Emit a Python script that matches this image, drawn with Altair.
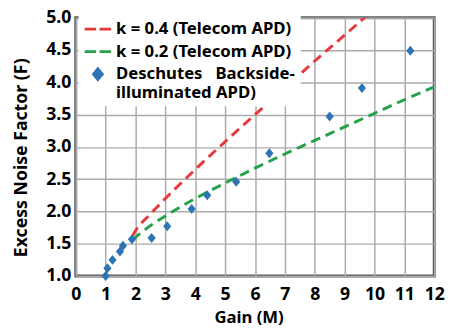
import altair as alt
import pandas as pd

# --- data ---
labels = ["k = 0.4 (Telecom APD)", "k = 0.2 (Telecom APD)",
          "Deschutes\u00a0\u00a0\u00a0Backside-|illuminated APD)"]
colors = ["#e8383b", "#25a149", "#2e74b5"]

red_M = [1.9, 2.0, 2.5, 3, 4, 5, 6, 7, 8, 9, 10]
red_F = [1.62, 1.70, 1.96, 2.20, 2.65, 3.08, 3.50, 3.91, 4.33, 4.73, 5.14]
green_M = [1.9, 2.0, 2.5, 3, 4, 5, 6, 7, 8, 9, 10, 11, 12]
green_F = [1.56, 1.60, 1.78, 1.93, 2.20, 2.44, 2.67, 2.89, 3.10, 3.31, 3.52, 3.73, 3.93]
pts_M = [1.0, 1.06, 1.23, 1.48, 1.58, 1.88, 2.54, 3.06, 3.88, 4.4, 5.37, 6.48, 8.5, 9.58, 11.2]
pts_F = [1.0, 1.12, 1.25, 1.38, 1.47, 1.57, 1.59, 1.77, 2.04, 2.25, 2.46, 2.90, 3.47, 3.91, 4.49]

x_ticks = list(range(0, 13))
y_ticks = [1.0, 1.5, 2.0, 2.5, 3.0, 3.5, 4.0, 4.5, 5.0]

curves = pd.DataFrame({
    "M": red_M + green_M,
    "F": red_F + green_F,
    "series": [labels[0]] * len(red_M) + [labels[1]] * len(green_M),
})
points = pd.DataFrame({"M": pts_M, "F": pts_F, "series": [labels[2]] * len(pts_M)})

FONT = "Noto Sans"
dash_path = "M-1.9,-0.2H-0.25V0.2H-1.9Z M0.25,-0.2H1.9V0.2H0.25Z"
diamond_path = "M0,-1.1L0.9,0L0,1.1L-0.9,0Z"

xs = alt.Scale(domain=[0, 12], nice=False, zero=False)
ys = alt.Scale(domain=[1.0, 5.0], nice=False, zero=False)


def x_axis():
    return alt.Axis(values=x_ticks, title="Gain (M)", labelFontSize=18, titleFontSize=17,
                    labelFont=FONT, titleFont=FONT, labelFontWeight="bold", titleFontWeight="bold",
                    labelColor="black", titleColor="black", grid=True, gridColor="#ababab",
                    gridWidth=1.5, ticks=False, domain=False, labelPadding=10, titlePadding=6,
                    titleX=176, labelFlush=False, labelOverlap=False)


def y_axis():
    return alt.Axis(values=y_ticks, format=".1f", title="Excess Noise Factor (F)", labelFontSize=18,
                    titleFontSize=18, labelFont=FONT, titleFont=FONT, labelFontWeight="bold",
                    titleFontWeight="bold", labelColor="black", titleColor="black", grid=True,
                    gridColor="#ababab", gridWidth=1.5, ticks=False, domain=False, labelPadding=5,
                    titlePadding=16, titleY=142, labelFlush=False, labelOverlap=False)


def leg():
    return alt.Legend(title=None, orient="none", legendX=3, legendY=-2, fillColor="white",
                      padding=5, symbolSize=200, symbolOffset=6, labelOffset=10,
                      labelFont=FONT, labelFontSize=17, labelFontWeight="bold", labelColor="black",
                      labelLimit=400, rowPadding=5, symbolStrokeWidth=0,
                      labelExpr="split(datum.label, '|')")


lines = alt.Chart(curves).mark_line(strokeDash=[10, 6], strokeWidth=3, clip=True,
                                    interpolate="monotone").encode(
    x=alt.X("M:Q", scale=xs, axis=x_axis()),
    y=alt.Y("F:Q", scale=ys, axis=y_axis()),
    stroke=alt.Stroke("series:N", scale=alt.Scale(domain=labels[:2], range=colors[:2]),
                      legend=None),
    detail="series:N",
)

pts = alt.Chart(points).mark_point(filled=True, size=85, opacity=1).encode(
    x=alt.X("M:Q", scale=xs, axis=x_axis()),
    y=alt.Y("F:Q", scale=ys, axis=y_axis()),
    color=alt.Color("series:N", scale=alt.Scale(domain=labels, range=colors), legend=leg()),
    shape=alt.Shape("series:N", scale=alt.Scale(domain=labels,
                                                range=[dash_path, dash_path, diamond_path]),
                    legend=leg()),
)

chart = alt.layer(lines, pts).properties(
    width=365, height=263,
    autosize=alt.AutoSizeParams(type="none"),
    padding={"left": 69, "top": 7, "right": 13, "bottom": 50},
).configure_view(stroke="#5a5a5a", strokeWidth=3)

chart.save("out.html", embed_options={"renderer": "svg", "actions": False})
